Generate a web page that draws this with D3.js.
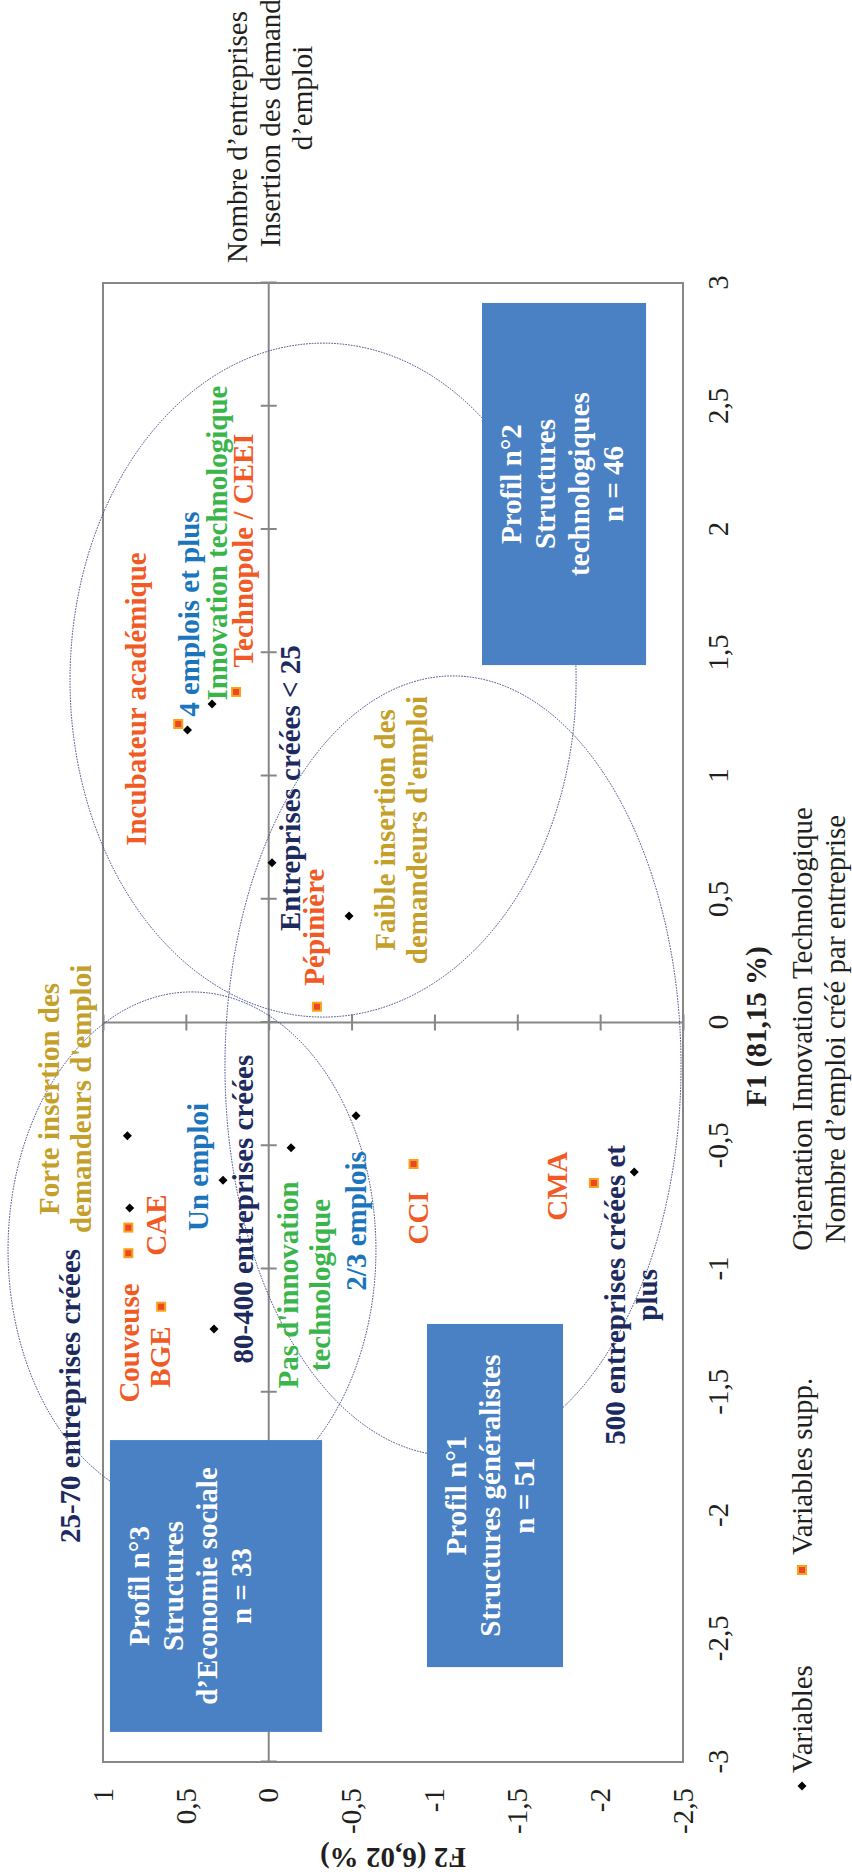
<!DOCTYPE html>
<html><head><meta charset="utf-8">
<script src="https://cdn.jsdelivr.net/npm/d3@7"></script>
<style>html,body{margin:0;padding:0;background:#fff}svg{display:block}</style>
</head><body><div id="chart"></div>
<script>
// ---------- data ----------
const F1_TICKS = [-3,-2.5,-2,-1.5,-1,-0.5,0,0.5,1,1.5,2,2.5,3];
const F2_TICKS = [-2.5,-2,-1.5,-1,-0.5,0,0.5,1];

// active variables (black diamonds)
const varNames = ["4 emplois et plus","Innovation technologique","Entreprises créées < 25","Faible insertion",
  "2/3 emplois","Forte insertion","Pas d'innovation technologique","Un emploi","25-70 entreprises créées",
  "80-400 entreprises créées","500 entreprises créées et plus"];
const varF1 = [1.187, 1.292, 0.648, 0.432, -0.378, -0.459, -0.508, -0.640, -0.753, -1.243, -0.606];
const varF2 = [0.490, 0.342, -0.020, -0.485, -0.527, 0.853, -0.135, 0.276, 0.839, 0.330, -2.206];

// supplementary variables (orange squares)
const suppNames = ["Incubateur académique","Technopole / CEEI","Pépinière","CAE","Couveuse","BGE","CCI","CMA"];
const suppF1 = [1.211, 1.341, 0.064, -0.832, -0.936, -1.153, -0.574, -0.651];
const suppF2 = [0.546, 0.197, -0.291, 0.847, 0.847, 0.649, -0.874, -1.962];

// point labels (text lines, anchor in F1/F2 units, colour group)
const labelTexts = [
  ["Incubateur académique"], ["4 emplois et plus"], ["Innovation technologique"], ["Technopole / CEEI"],
  ["Entreprises créées < 25"], ["Pépinière"], ["Faible insertion des","demandeurs d'emploi"],
  ["Forte insertion des","demandeurs d'emploi"], ["Couveuse"], ["BGE"], ["CAE"], ["Un emploi"],
  ["80-400 entreprises créées"], ["Pas d'innovation","technologique"], ["2/3 emplois"], ["CCI"], ["CMA"],
  ["500 entreprises créées et","plus"], ["25-70 entreprises créées"]];
const labelF1 = [1.312, 1.657, 1.945, 1.915, 0.951, 0.387, 0.781, -0.310, -1.300, -1.357, -0.822, -0.586,
  -0.757, -1.065, -0.805, -0.793, -0.664, -1.105, -1.515];
const labelF2 = [0.795, 0.475, 0.306, 0.149, -0.134, -0.279, -0.708, 1.320, 0.839, 0.650, 0.674, 0.421,
  0.149, -0.122, -0.533, -0.907, -1.746, -2.096, 1.193];
const labelGroup = ["supp","emploi","innov","supp","nbent","supp","insert","insert","supp","supp","supp","emploi",
  "nbent","innov","emploi","supp","supp","nbent","nbent"];

// ellipses (centre and semi-axes in F1/F2 units)
const ellF1 = [1.389, -0.176, -0.923];
const ellF2 = [-0.328, -1.112, 0.463];
const ellR1 = [1.367, 1.582, 1.047];
const ellR2 = [1.527, 1.376, 1.110];

// profile boxes
const profilLines = [
  ["Profil n°2","Structures","technologiques","n = 46"],
  ["Profil n°1","Structures généralistes","n = 51"],
  ["Profil n°3","Structures","d’Economie sociale","n = 33"]];
const profilF1min = [1.450, -2.615, -2.878];
const profilF1max = [2.919, -1.223, -1.694];
const profilF2min = [-2.277, -1.776, -0.322];
const profilF2max = [-1.287, -0.955, 0.958];

// ---------- style ----------
const COLORS = {supp:"#f15a24", emploi:"#1b75bc", innov:"#39b54a", nbent:"#1c2a5e", insert:"#c4a02a"};
const FONT = "'Liberation Serif','Times New Roman',serif";
const AXIS = "#878787";
const TXT = "#231f20";

// ---------- chart (drawn in landscape, then rotated) ----------
const svg = d3.select("#chart").append("svg").attr("width",852).attr("height",1874);
const g = svg.append("g").attr("transform","translate(0,1874) rotate(-90)");

const x = d3.scaleLinear().domain([-3,3]).range([112,1591]);
const y = d3.scaleLinear().domain([-2.5,1]).range([683,103]);
const fmt = d => String(d).replace(".",",");

// frame
g.append("rect").attr("x",x(-3)).attr("y",y(1)).attr("width",x(3)-x(-3)).attr("height",y(-2.5)-y(1))
  .attr("fill","none").attr("stroke",AXIS).attr("stroke-width",2);

// zero lines
g.append("line").attr("x1",x(-3)).attr("x2",x(3)).attr("y1",y(0)).attr("y2",y(0)).attr("stroke",AXIS).attr("stroke-width",2);
g.append("line").attr("x1",x(0)).attr("x2",x(0)).attr("y1",y(1)).attr("y2",y(-2.5)).attr("stroke",AXIS).attr("stroke-width",2);

// crossing ticks
const tx = g.append("g").attr("transform",`translate(0,${y(0)-8})`)
  .call(d3.axisBottom(x).tickValues(F1_TICKS).tickSize(16).tickFormat(""));
tx.select(".domain").remove();
tx.selectAll("line").attr("stroke",AXIS).attr("stroke-width",2);
const ty = g.append("g").attr("transform",`translate(${x(0)+8},0)`)
  .call(d3.axisLeft(y).tickValues(F2_TICKS).tickSize(16).tickFormat(""));
ty.select(".domain").remove();
ty.selectAll("line").attr("stroke",AXIS).attr("stroke-width",2);

// tick labels
const lx = g.append("g").attr("transform",`translate(0,${y(-2.5)})`)
  .call(d3.axisBottom(x).tickValues(F1_TICKS).tickSize(0).tickPadding(24).tickFormat(fmt));
lx.select(".domain").remove();
lx.attr("font-family",FONT).attr("font-size",29);
lx.selectAll("text").attr("fill",TXT);
const ly = g.append("g").attr("transform",`translate(${x(-3)},0)`)
  .call(d3.axisLeft(y).tickValues(F2_TICKS).tickSize(0).tickPadding(26).tickFormat(fmt));
ly.select(".domain").remove();
ly.attr("font-family",FONT).attr("font-size",29);
ly.selectAll("text").attr("fill",TXT);

// axis titles
g.append("text").attr("x",x(0)-4).attr("y",766).attr("text-anchor","middle")
  .attr("font-family",FONT).attr("font-size",29).attr("font-weight","bold").attr("fill",TXT).text("F1 (81,15 %)");
g.append("text").attr("transform",`translate(26,${(y(1)+y(-2.5))/2}) rotate(-90)`).attr("text-anchor","middle")
  .attr("font-family",FONT).attr("font-size",29).attr("font-weight","bold").attr("fill",TXT).text("F2 (6,02 %)");

// ellipses
const ells = d3.range(ellF1.length).map(i=>({f1:ellF1[i],f2:ellF2[i],r1:ellR1[i],r2:ellR2[i]}));
g.append("g").selectAll("ellipse").data(ells).join("ellipse")
  .attr("cx",d=>x(d.f1)).attr("cy",d=>y(d.f2))
  .attr("rx",d=>x(d.f1+d.r1)-x(d.f1)).attr("ry",d=>y(d.f2)-y(d.f2+d.r2))
  .attr("fill","none").attr("stroke","#3b4688").attr("stroke-width",1).attr("stroke-dasharray","1.6,1.2");

// profile boxes
const boxes = d3.range(profilLines.length).map(i=>({lines:profilLines[i],a:profilF1min[i],b:profilF1max[i],c:profilF2min[i],d:profilF2max[i]}));
const bg = g.append("g").selectAll("g").data(boxes).join("g");
bg.append("rect").attr("x",d=>x(d.a)).attr("y",d=>y(d.d)).attr("width",d=>x(d.b)-x(d.a)).attr("height",d=>y(d.c)-y(d.d))
  .attr("fill","#4a81c4");
bg.each(function(d){
  const t = d3.select(this).append("text").attr("text-anchor","middle").attr("font-family",FONT)
    .attr("font-size",29).attr("font-weight","bold").attr("fill","#fff");
  d.lines.forEach((ln,i)=>{
    t.append("tspan").attr("x",(x(d.a)+x(d.b))/2).attr("y",y(d.d)+30+i*34).attr("dy","0.32em").text(ln);
  });
});

// labels
const labs = d3.range(labelTexts.length).map(i=>({lines:labelTexts[i],f1:labelF1[i],f2:labelF2[i],grp:labelGroup[i]}));
g.append("g").selectAll("text").data(labs).join("text")
  .attr("text-anchor","middle").attr("font-family",FONT).attr("font-size",29).attr("font-weight","bold")
  .attr("fill",d=>COLORS[d.grp])
  .each(function(d){
    const t = d3.select(this);
    d.lines.forEach((ln,i)=>{
      t.append("tspan").attr("x",x(d.f1)).attr("y",y(d.f2)+i*32).attr("dy","0.32em").text(ln);
    });
  });

// markers
const diamond = "M0,-4.5L4.5,0L0,4.5L-4.5,0Z";
const vars = d3.range(varNames.length).map(i=>({n:varNames[i],f1:varF1[i],f2:varF2[i]}));
g.append("g").selectAll("path").data(vars).join("path")
  .attr("d",diamond).attr("transform",d=>`translate(${x(d.f1)},${y(d.f2)})`).attr("fill","#000");
const supp = d3.range(suppNames.length).map(i=>({n:suppNames[i],f1:suppF1[i],f2:suppF2[i]}));
const sg = g.append("g").selectAll("g").data(supp).join("g")
  .attr("transform",d=>`translate(${x(d.f1)},${y(d.f2)})`);
sg.append("rect").attr("x",-5).attr("y",-5).attr("width",10).attr("height",10).attr("fill","#f8a21c");
sg.append("rect").attr("x",-3).attr("y",-3).attr("width",6).attr("height",6).attr("fill","#ee4524");

// legend
const leg = g.append("g").attr("font-family",FONT).attr("font-size",29).attr("fill",TXT);
leg.append("path").attr("d",diamond).attr("transform","translate(88,802)").attr("fill","#000");
leg.append("text").attr("x",101).attr("y",812).text("Variables");
leg.append("rect").attr("x",299).attr("y",797).attr("width",10).attr("height",10).attr("fill","#f8a21c");
leg.append("rect").attr("x",301).attr("y",799).attr("width",6).attr("height",6).attr("fill","#ee4524");
leg.append("text").attr("x",319).attr("y",812).text("Variables supp.");
leg.append("text").attr("x",845).attr("y",812).attr("text-anchor","middle").text("Orientation Innovation Technologique");
leg.append("text").attr("x",845).attr("y",845).attr("text-anchor","middle").text("Nombre d’emploi créé par entreprise");
leg.append("text").attr("x",1737).attr("y",247).attr("text-anchor","middle").text("Nombre d’entreprises");
leg.append("text").attr("x",1775).attr("y",280).attr("text-anchor","middle").text("Insertion des demandeurs");
leg.append("text").attr("x",1776).attr("y",312).attr("text-anchor","middle").text("d’emploi");
</script>
</body></html>
